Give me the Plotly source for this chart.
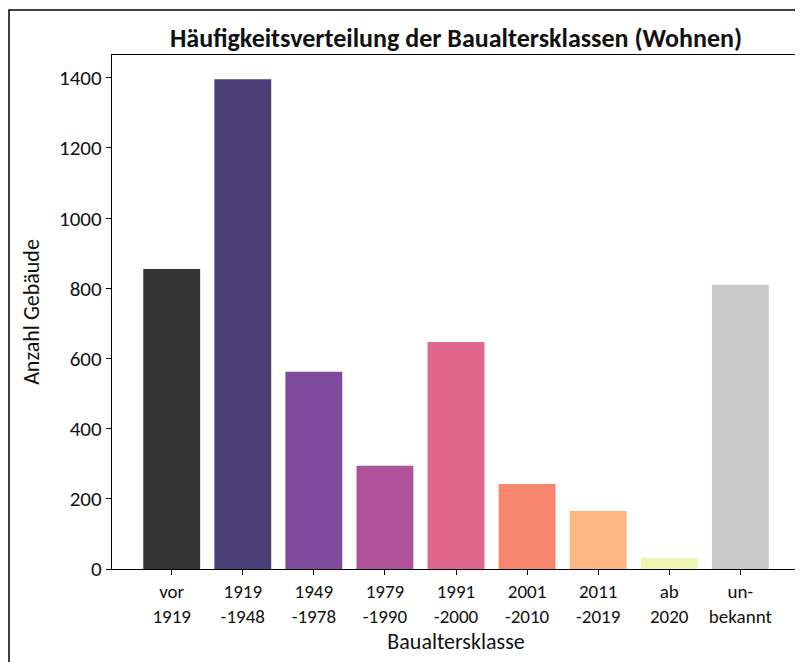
import plotly.graph_objects as go

kategorien = ["vor<br>1919", "1919<br>-1948", "1949<br>-1978", "1979<br>-1990", "1991<br>-2000",
              "2001<br>-2010", "2011<br>-2019", "ab<br>2020", "un-<br>bekannt"]
anzahl = [855, 1396, 562, 294, 647, 242, 165, 31, 810]
farben = ["#333333", "#4b3f78", "#7e4a9c", "#b0529a", "#e0668e",
          "#f8866e", "#fdb783", "#eef6b2", "#c9c9c9"]
y_ticks = [0, 200, 400, 600, 800, 1000, 1200, 1400]

FONT = "Carlito, Calibri, Lato, sans-serif"

fig = go.Figure()
fig.add_trace(
    go.Bar(
        x=list(range(len(kategorien))), y=anzahl, width=0.8,
        marker=dict(color=farben, line=dict(width=0)),
        showlegend=False,
    )
)

# Seite hat 8px Rand -> Figur etwas kleiner als das Fenster
fig.update_layout(
    width=795, height=654,
    paper_bgcolor="white", plot_bgcolor="white",
    margin=dict(l=104, r=3, t=47, b=93),
    font=dict(family=FONT, size=21, color="#111"),
    title=dict(
        text="<b>Häufigkeitsverteilung der Baualtersklassen (Wohnen)</b>",
        x=0.5, xref="paper", y=0.955, yref="container", xanchor="center", yanchor="middle",
        font=dict(size=26, color="#111"),
    ),
    shapes=[
        dict(type="rect", xref="paper", yref="paper", x0=-0.1497, x1=1.02, y0=-0.2, y1=1.0875,
             line=dict(color="black", width=1.5), fillcolor="rgba(0,0,0,0)", layer="below"),
    ],
)
fig.update_xaxes(
    range=[-0.84, 8.84], tickmode="array",
    tickvals=list(range(len(kategorien))), ticktext=kategorien,
    tickfont=dict(size=19),
    showline=True, linecolor="black", linewidth=1.3, mirror=True,
    ticks="outside", ticklen=5, tickcolor="black", showgrid=False, zeroline=False,
    title=dict(text="Baualtersklasse", font=dict(size=22), standoff=0),
)
fig.update_yaxes(
    range=[0, 1465], tickmode="array", tickvals=y_ticks,
    showline=True, linecolor="black", linewidth=1.3, mirror=True,
    ticks="outside", ticklen=5, tickcolor="black", showgrid=False, zeroline=False,
    title=dict(text="Anzahl Gebäude", font=dict(size=22), standoff=13),
)

fig.write_html("out.html")
